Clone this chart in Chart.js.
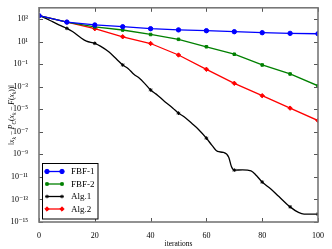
<!DOCTYPE html>
<html><head><meta charset="utf-8">
<script src="https://cdn.jsdelivr.net/npm/chart.js@4.4.0/dist/chart.umd.min.js"></script>
<style>html,body{margin:0;padding:0;background:#fff;}#wrap{width:332px;height:249px;}</style>
</head><body><div id="wrap"><canvas id="c" width="332" height="249"></canvas></div>
<script>
// ---- data ----
const markIters = [0, 10, 20, 30, 40, 50, 60, 70, 80, 90, 100];
const fbf1 = [2.0e3, 5.4e2, 3.0e2, 2.1e2, 1.4e2, 1.1e2, 9.3e1, 7.6e1, 6.2e1, 5.4e1, 5.0e1];
const fbf2 = [2.0e3, 5.4e2, 2.0e2, 1.07e2, 4.3e1, 1.6e1, 3.5, 7.6e-1, 8.5e-2, 1.35e-2, 1.2e-3];
const alg2 = [2.0e3, 5.4e2, 1.4e2, 2.7e1, 6.8, 6.5e-1, 3.5e-2, 2.0e-3, 1.6e-4, 1.26e-5, 1.0e-6];
const alg1Iters = [0, 2, 5, 8, 10, 12, 15, 17, 20, 22, 25, 28, 30, 32, 34, 36, 38, 40, 42, 45, 48, 50,
  52, 55, 57, 60, 62, 64, 66, 68, 69, 70, 73, 76, 78, 80, 83, 86, 90, 93, 95, 100];
const alg1 = [2.0e3, 1.26e3, 5.6e2, 2.5e2, 1.5e2, 7.9e1, 2.2e1, 1.1e1, 7.1, 4.0, 1.26, 2.5e-1, 8.5e-2,
  4.0e-2, 1.26e-2, 5.6e-3, 1.8e-3, 5.2e-4, 2.2e-4, 5.0e-5, 1.26e-5, 4.5e-6,
  2.2e-6, 5.0e-7, 1.8e-7, 2.75e-8, 6.3e-9, 1.8e-9, 1.5e-9, 5.6e-10, 7.9e-11, 4.0e-11, 4.2e-11, 3.5e-11,
  1.26e-11, 3.5e-12, 8.9e-13, 1.8e-13, 2.2e-14, 7.1e-15, 5.0e-15, 5.0e-15];
const seriesNames = ['FBF-1', 'FBF-2', 'Alg.1', 'Alg.2'];
const seriesColors = ['#0000ff', '#008000', '#000000', '#ff0000'];
const seriesMarkers = ['circle', 'rect', 'star', 'rectRot'];
const seriesMarkerSize = [2.2, 1.8, 1.8, 2.2];
const xTickValues = [0, 20, 40, 60, 80, 100];
const yTickExps = [3, 1, -1, -3, -5, -7, -9, -11, -13, -15];
const xTitle = 'iterations';

const SERIF = '"Liberation Serif", "DejaVu Serif", serif';
const supMap = {'-': '\u207B', '0': '\u2070', '1': '\u00B9', '2': '\u00B2', '3': '\u00B3', '4': '\u2074',
  '5': '\u2075', '6': '\u2076', '7': '\u2077', '8': '\u2078', '9': '\u2079'};
function sup(n) { return String(n).split('').map(c => supMap[c]).join(''); }

function pairs(xs, ys) { return xs.map((x, i) => ({x: x, y: ys[i]})); }

const datasets = [
  {label: seriesNames[0], data: pairs(markIters, fbf1)},
  {label: seriesNames[1], data: pairs(markIters, fbf2)},
  {label: seriesNames[2], data: pairs(alg1Iters, alg1)},
  {label: seriesNames[3], data: pairs(markIters, alg2)}
].map((d, i) => Object.assign(d, {
  borderColor: seriesColors[i],
  backgroundColor: seriesColors[i],
  borderWidth: 1.3,
  pointStyle: seriesMarkers[i],
  pointRadius: (ctx) => (ctx.raw && ctx.raw.x % 10 === 0) ? seriesMarkerSize[i] : 0,
  pointBorderWidth: 1,
  pointBorderColor: seriesColors[i],
  pointBackgroundColor: seriesColors[i],
  tension: 0,
  cubicInterpolationMode: i === 2 ? 'monotone' : 'default',
  fill: false
}));

const framePlugin = {
  id: 'frame',
  afterDraw(chart) {
    const ctx = chart.ctx, a = chart.chartArea;
    const xs = chart.scales.x, ys = chart.scales.y;
    ctx.save();
    // ticks
    ctx.strokeStyle = '#555';
    ctx.lineWidth = 1;
    ctx.beginPath();
    xTickValues.forEach(v => {
      const px = Math.round(xs.getPixelForValue(v)) + 0.5;
      ctx.moveTo(px, a.bottom); ctx.lineTo(px, a.bottom - 4);
      ctx.moveTo(px, a.top); ctx.lineTo(px, a.top + 4);
    });
    yTickExps.forEach(e => {
      const py = Math.round(ys.getPixelForValue(Math.pow(10, e))) + 0.5;
      ctx.moveTo(a.left, py); ctx.lineTo(a.left + 4, py);
      ctx.moveTo(a.right, py); ctx.lineTo(a.right - 4, py);
    });
    ctx.stroke();
    // frame
    ctx.strokeStyle = '#777';
    ctx.lineWidth = 1.6;
    ctx.strokeRect(a.left, a.top, a.right - a.left, a.bottom - a.top);

    // legend box
    const bx = 42.5, by = 163.5, bw = 55.5, bh = 55.5;
    ctx.fillStyle = '#fff';
    ctx.fillRect(bx, by, bw, bh);
    ctx.strokeStyle = '#000';
    ctx.lineWidth = 1;
    ctx.strokeRect(bx, by, bw, bh);
    const rows = [171.5, 184, 196.5, 209];
    ctx.font = '9px ' + SERIF;
    ctx.textBaseline = 'middle';
    ctx.textAlign = 'left';
    chart.data.datasets.forEach((ds, i) => {
      const y = rows[i];
      ctx.strokeStyle = seriesColors[i];
      ctx.fillStyle = seriesColors[i];
      ctx.lineWidth = 1.3;
      ctx.beginPath(); ctx.moveTo(47, y); ctx.lineTo(62, y); ctx.stroke();
      ctx.lineWidth = 1;
      [47, 62].forEach(px => Chart.helpers.drawPoint(ctx, {pointStyle: seriesMarkers[i], radius: seriesMarkerSize[i], rotation: 0, borderWidth: 1}, px, y));
      ctx.fillStyle = '#000';
      ctx.fillText(ds.label, 71, y + 0.5);
    });

    // y axis title with subscripts
    const parts = [
      ['\u2016', 0, false], ['x', 0, true], ['k', 1, true], [' \u2212 ', 0, false], ['P', 0, true], ['C', 1, true],
      ['(', 0, false], ['x', 0, true], ['k', 1, true], [' \u2212 ', 0, false], ['F', 0, true], ['(', 0, false],
      ['x', 0, true], ['k', 1, true], ['))\u2016', 0, false]
    ];
    const fontFor = (p) => (p[2] ? 'italic ' : '') + (p[1] ? '5.5px ' : '7.5px ') + SERIF;
    let total = 0;
    parts.forEach(p => { ctx.font = fontFor(p); total += ctx.measureText(p[0]).width; });
    ctx.translate(11, (a.top + a.bottom) / 2);
    ctx.rotate(-Math.PI / 2);
    ctx.fillStyle = '#000';
    ctx.textBaseline = 'alphabetic';
    let cx = -total / 2;
    parts.forEach(p => {
      ctx.font = fontFor(p);
      ctx.fillText(p[0], cx, p[1] ? 4.5 : 2.5);
      cx += ctx.measureText(p[0]).width;
    });
    ctx.restore();
  }
};

new Chart(document.getElementById('c'), {
  type: 'line',
  data: {datasets: datasets},
  options: {
    responsive: false,
    animation: false,
    devicePixelRatio: 1,
    layout: {padding: {top: 7, right: 14, left: 0, bottom: 0}},
    plugins: {legend: {display: false}, tooltip: {enabled: false}},
    scales: {
      x: {
        type: 'linear', min: 0, max: 100,
        afterBuildTicks: (s) => { s.ticks = xTickValues.map(v => ({value: v})); },
        ticks: {font: {family: SERIF, size: 8}, color: '#000', padding: 1, maxRotation: 0},
        grid: {display: false},
        border: {display: false},
        title: {display: true, text: xTitle, font: {family: SERIF, size: 7.5}, color: '#000', padding: {top: 1, bottom: 0}},
        afterFit: (s) => { s.height = 27; }
      },
      y: {
        type: 'logarithmic', min: 1e-15, max: 1e4,
        afterBuildTicks: (s) => { s.ticks = yTickExps.map(e => ({value: Math.pow(10, e)})); },
        ticks: {
          autoSkip: false,
          font: {family: SERIF, size: 8}, color: '#000', padding: 3,
          callback: (v) => '10' + sup(Math.round(Math.log10(v)))
        },
        grid: {display: false},
        border: {display: false},
        afterFit: (s) => { s.width = 39; }
      }
    }
  },
  plugins: [framePlugin]
});
</script>
</body></html>
